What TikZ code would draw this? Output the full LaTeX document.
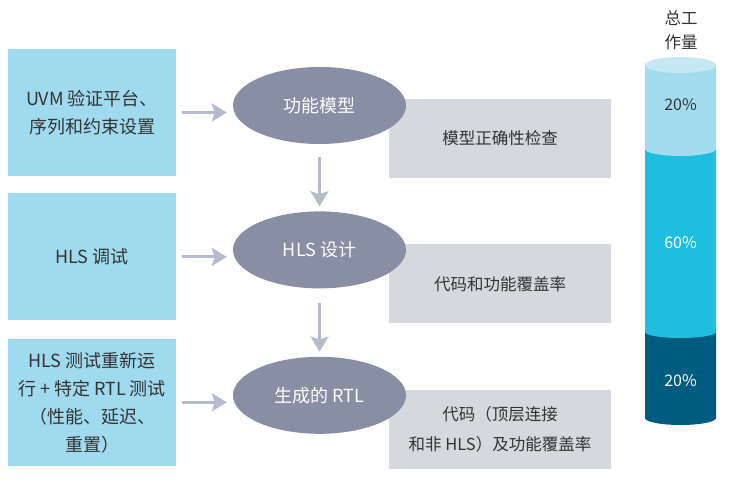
\documentclass[tikz,border=0pt]{standalone}
\usepackage{fontspec}
\setmainfont{Noto Sans CJK SC}
\usetikzlibrary{positioning,shapes.geometric,arrows.meta}

\definecolor{textgray}{HTML}{333333}
\definecolor{boxblue}{HTML}{A0DAEE}
\definecolor{stagegray}{HTML}{888EA3}
\definecolor{checkgray}{HTML}{D5D8DD}
\definecolor{arrowgray}{HTML}{B5BBCC}
\definecolor{cyltop}{HTML}{C6E8F4}
\definecolor{cyllight}{HTML}{A4DCEF}
\definecolor{cylmid}{HTML}{1DBEE0}
\definecolor{cyldark}{HTML}{005B80}

\begin{document}
\begin{tikzpicture}[
    x=1pt, y=-1pt,
    inbox/.style={
        rectangle,
        fill=boxblue,
        text=textgray,
        minimum width=168pt,
        minimum height=127pt,
        inner sep=0pt,
        align=center,
        font=\fontsize{18}{28}\selectfont
    },
    stage/.style={
        ellipse,
        fill=stagegray,
        text=white,
        minimum width=173pt,
        minimum height=77pt,
        inner sep=0pt,
        font=\fontsize{18}{24}\selectfont
    },
    checkbox/.style={
        rectangle,
        fill=checkgray,
        text=textgray,
        minimum width=222pt,
        minimum height=79pt,
        inner sep=0pt,
        align=center,
        font=\fontsize{16.5}{30}\selectfont
    },
    pct/.style={font=\fontsize{16}{20}\selectfont},
    arrow/.style={
        -{Stealth[length=15pt,width=18pt,inset=3pt]},
        line width=3pt,
        draw=arrowgray,
        shorten <=6pt,
        shorten >=6pt
    }
]
\useasboundingbox (0,0) rectangle (730,484);

% left inputs
\node[inbox] (L1) at (92,112.5)
{UVM 验证平台、\\
序列和约束设置};

\node[inbox] (L2) [below=17pt of L1]
{HLS 调试};

\node[inbox] (L3) [below=18pt of L2]
{HLS 测试重新运\\
行 + 特定 RTL 测试\\
（性能、延迟、\\
重置）};

% checks
\node[checkbox] (G1) at (500,138.5)
{模型正确性检查};

\node[checkbox] (G2) [below=66pt of G1]
{代码和功能覆盖率};

\node[checkbox] (G3) [below=66pt of G2]
{代码（顶层连接\\
和非 HLS）及功能覆盖率};

% flow
\node[stage] (E1) at (319.5,105.5) {功能模型};

\node[stage] (E2) [below=67pt of E1] {HLS 设计};

\node[stage] (E3) [below=68pt of E2] {生成的 RTL};

\draw[arrow] (L1.east) -- (L1.east -| E1.west);
\draw[arrow] (L2.east) -- (L2.east -| E2.west);
\draw[arrow] (L3.east) -- (L3.east -| E3.west);

\draw[arrow, shorten <=13pt, shorten >=5pt] (E1.south) -- (E2.north);
\draw[arrow, shorten <=14pt, shorten >=5pt] (E2.south) -- (E3.north);

% effort cylinder
\fill[cyldark] (645,332) -- (645,418)
    arc[start angle=180, end angle=0, x radius=35.5, y radius=7] -- (716,332) -- cycle;
\fill[cylmid] (645,149) -- (645,332)
    arc[start angle=180, end angle=0, x radius=35.5, y radius=6] -- (716,149) -- cycle;
\fill[cyllight] (645,65) -- (645,149)
    arc[start angle=180, end angle=0, x radius=35.5, y radius=7] -- (716,65) -- cycle;
\fill[cyltop] (680.5,65) ellipse[x radius=35.5, y radius=8];

\node[pct, text=textgray] (P1) at (680.5,105) {20\%};
\node[pct, text=white] (P2) at (680.5,243) {60\%};
\node[pct, text=white] (P3) at (680.5,381) {20\%};

\node[align=center, text=textgray, font=\fontsize{16.5}{24}\selectfont] (T) at (681,30)
{总工\\作量};

\end{tikzpicture}
\end{document}
